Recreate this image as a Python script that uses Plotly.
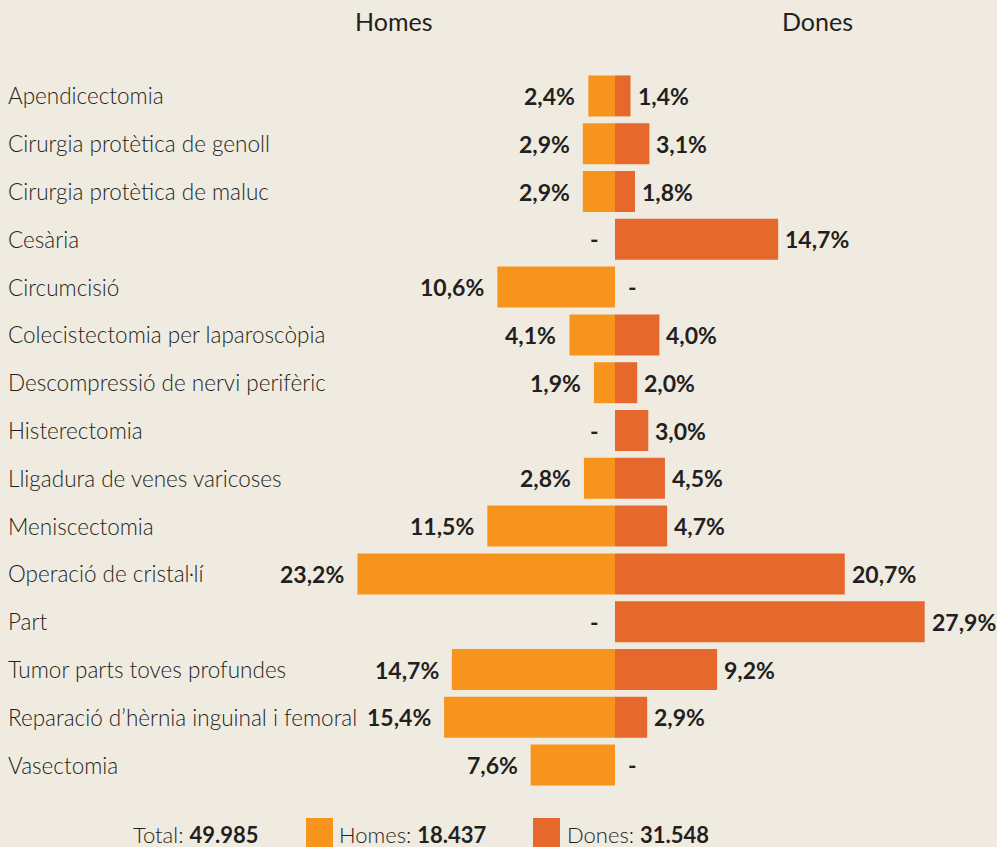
import plotly.graph_objects as go

categories = ["Apendicectomia", "Cirurgia protètica de genoll", "Cirurgia protètica de maluc",
              "Cesària", "Circumcisió", "Colecistectomia per laparoscòpia",
              "Descompressió de nervi perifèric", "Histerectomia", "Lligadura de venes varicoses",
              "Meniscectomia", "Operació de cristal·lí", "Part", "Tumor parts toves profundes",
              "Reparació d’hèrnia inguinal i femoral", "Vasectomia"]
homes = [2.4, 2.9, 2.9, 0, 10.6, 4.1, 1.9, 0, 2.8, 11.5, 23.2, 0, 14.7, 15.4, 7.6]
dones = [1.4, 3.1, 1.8, 14.7, 0, 4.0, 2.0, 3.0, 4.5, 4.7, 20.7, 27.9, 9.2, 2.9, 0]
total_all = "49.985"
total_homes = "18.437"
total_dones = "31.548"

C_H = "#f7941e"
C_D = "#e5682d"
BG = "#f0ebe1"
TXT = "#231f20"
FONT = "Lato"

W, H = 997, 847
MT, MB = 72, 58
plot_h = H - MT - MB
scale = 11.1
center_px = 615
L = center_px / scale
R = (W - center_px) / scale

def fmt(v):
    return f"{v:.1f}".replace(".", ",") + "%"

fig = go.Figure()
fig.add_trace(go.Bar(y=categories, x=[-v for v in homes], orientation="h",
                     marker=dict(color=C_H, line=dict(width=0)), name="Homes",
                     hoverinfo="skip"))
fig.add_trace(go.Bar(y=categories, x=dones, orientation="h",
                     marker=dict(color=C_D, line=dict(width=0)), name="Dones",
                     hoverinfo="skip"))

VAL_FONT = dict(family=FONT, size=23, color=TXT, weight="bold")
ann = []
for c, h, d in zip(categories, homes, dones):
    ann.append(dict(x=0, xref="paper", y=c, yref="y", text=c, showarrow=False,
                    xanchor="left", xshift=6, yanchor="middle",
                    font=dict(family=FONT, size=22.5, color=TXT, weight=300)))
    if h > 0:
        ann.append(dict(x=-h, y=c, text=fmt(h), showarrow=False, xanchor="right",
                        xshift=-11, font=VAL_FONT))
    else:
        ann.append(dict(x=0, y=c, text="-", showarrow=False, xanchor="center",
                        xshift=-21, font=VAL_FONT))
    if d > 0:
        ann.append(dict(x=d, y=c, text=fmt(d), showarrow=False, xanchor="left",
                        xshift=5, font=VAL_FONT))
    else:
        ann.append(dict(x=0, y=c, text="-", showarrow=False, xanchor="center",
                        xshift=17, font=VAL_FONT))

def py(p):
    return (H - MB - p) / plot_h

ann.append(dict(x=393 / W, xref="paper", y=py(21), yref="paper", text="Homes", showarrow=False,
                xanchor="center", yanchor="middle", font=dict(family=FONT, size=25, color=TXT)))
ann.append(dict(x=817 / W, xref="paper", y=py(21), yref="paper", text="Dones", showarrow=False,
                xanchor="center", yanchor="middle", font=dict(family=FONT, size=25, color=TXT)))

legend_items = [(131, "Total: <b>" + total_all + "</b>"),
                (337, "Homes: <b>" + total_homes + "</b>"),
                (565, "Dones: <b>" + total_dones + "</b>")]
for x, t in legend_items:
    ann.append(dict(x=x / W, xref="paper", y=py(834), yref="paper", text=t, showarrow=False,
                    xanchor="left", yanchor="middle",
                    font=dict(family=FONT, size=22, color=TXT, weight=300)))

shapes = []
for x0, col in [(306, C_H), (533, C_D)]:
    shapes.append(dict(type="rect", xref="paper", yref="paper", x0=x0 / W, x1=(x0 + 27) / W,
                       y0=py(818), y1=py(850), fillcolor=col, line=dict(width=0), layer="above"))

fig.update_layout(
    width=W, height=H, barmode="relative", bargap=0.143,
    paper_bgcolor=BG, plot_bgcolor=BG,
    margin=dict(l=0, r=0, t=MT, b=MB),
    showlegend=False,
    xaxis=dict(range=[-L, R], visible=False, fixedrange=True),
    yaxis=dict(type="category", categoryorder="array", categoryarray=categories,
               range=[len(categories) - 0.5, -0.5], visible=False, fixedrange=True),
    annotations=ann, shapes=shapes,
)

fig.write_html("out.html", config={"displayModeBar": False},
               post_script="document.body.style.margin='0';document.body.style.padding='0';"
                           "document.body.style.overflow='hidden';"
                           "document.body.style.background='" + BG + "';")
